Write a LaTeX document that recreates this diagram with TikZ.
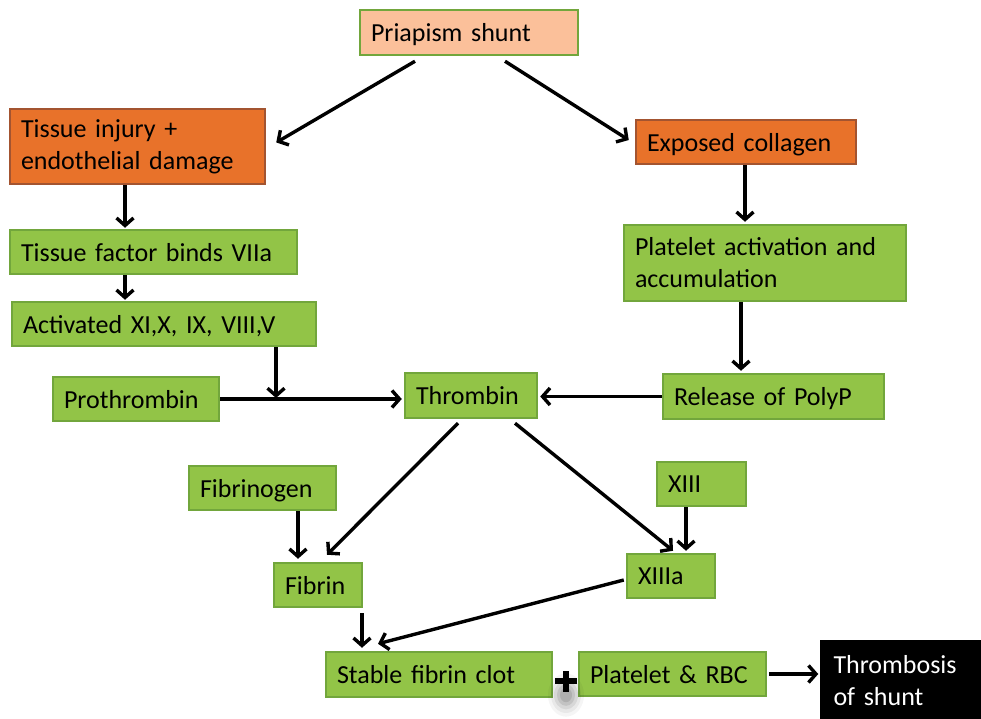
\documentclass[tikz,border=0pt]{standalone}
\usepackage{fontspec}
\setmainfont{Carlito}
\usetikzlibrary{arrows.meta}
\definecolor{gfill}{HTML}{92C447}
\definecolor{gline}{HTML}{72A63C}
\definecolor{ofill}{HTML}{E8722A}
\definecolor{oline}{HTML}{A35430}
\definecolor{pfill}{HTML}{FBC09A}
\tikzset{
  base/.style={line width=2.5pt, inner xsep=11pt, inner ysep=0pt, align=left,
    font=\fontsize{26}{32}\selectfont},
  one/.style={text depth=0pt},
  gbox/.style={base, draw=gline, fill=gfill},
  obox/.style={base, draw=oline, fill=ofill},
  pbox/.style={base, draw=gline, fill=pfill},
  kbox/.style={base, draw=black, fill=black, text=white},
  arr/.style={line width=3.4pt, -{Straight Barb[length=7.5pt,width=17pt]}},
}
\begin{document}
\begin{tikzpicture}[x=1pt,y=-1pt]
\useasboundingbox[fill=white] (0,0) rectangle (981,719);
\node[pbox, one, text width=196pt, minimum height=45pt] (ps) at (469,32.5) {Priapism shunt};
\node[obox, text width=233pt, minimum height=75pt] (ti) at (137.5,146.5) {Tissue injury +\\endothelial damage};
\node[obox, one, text width=198pt, minimum height=44pt] (ec) at (746,142) {Exposed collagen};
\node[gbox, one, text width=265pt, minimum height=44pt] (tf) at (153.5,252) {Tissue factor binds VIIa};
\node[gbox, text width=260pt, minimum height=76pt] (pa) at (765,263) {Platelet activation and\\accumulation};
\node[gbox, one, text width=282pt, minimum height=44pt] (ax) at (164,324) {Activated XI,X, IX, VIII,V};
\node[gbox, one, text width=144pt, minimum height=44pt] (pr) at (136,399) {Prothrombin};
\node[gbox, one, text width=110pt, minimum height=45pt] (th) at (471,395.5) {Thrombin};
\node[gbox, one, text width=199pt, minimum height=45pt] (rp) at (773.5,396.5) {Release of PolyP};
\node[gbox, one, text width=125pt, minimum height=44pt] (fg) at (262.5,488) {Fibrinogen};
\node[gbox, one, text width=67pt, minimum height=44pt] (x13) at (701.5,484) {XIII};
\node[gbox, one, text width=66pt, minimum height=44pt] (fb) at (318,585) {Fibrin};
\node[gbox, one, text width=66pt, minimum height=44pt] (x13a) at (671,576) {XIIIa};
\node[gbox, one, text width=204pt, minimum height=45pt] (sc) at (439,674.5) {Stable fibrin clot};
\node[gbox, one, text width=165pt, minimum height=44pt] (prbc) at (672.5,674) {Platelet \& RBC};
\node[kbox, text width=137pt, minimum height=79pt, inner xsep=12pt] (tos) at (902,680.5) {Thrombosis\\of shunt};
% plus sign with soft shadow
\foreach \r/\o in {18/0.04,15/0.05,12/0.07,9/0.09,6/0.1}{
  \fill[black, opacity=\o] (566,695) ellipse ({\r pt} and {1.2*\r pt});
}
\coordinate (plus) at (566,681);
\draw[line width=6pt] ([xshift=-11pt]plus) -- ([xshift=11pt]plus);
\draw[line width=6pt] ([yshift=-10.5pt]plus) -- ([yshift=10.5pt]plus);
% connectors
\draw[arr] ([xshift=-54pt,yshift=-5pt]ps.south) -- ([xshift=10pt,yshift=4pt]ti.east);
\draw[arr] ([xshift=36pt,yshift=-5pt]ps.south) -- ([xshift=-6pt,yshift=2pt]ec.west);
\draw[arr] ([xshift=-12.5pt]ti.south) -- ([xshift=-28.5pt,yshift=1pt]tf.north);
\draw[arr] ([xshift=-28.5pt]tf.south) -- ([xshift=-39pt,yshift=1pt]ax.north);
\draw[arr] ([xshift=-1pt]ec.south) -- ([xshift=-20pt,yshift=2pt]pa.north);
\draw[arr] ([xshift=-24pt]pa.south) -- ([xshift=-32.5pt,yshift=2pt]rp.north);
\draw[arr] (rp.west) -- ([xshift=2pt]rp.west -| th.east);
\draw[arr] (pr.east) -- ([xshift=-2pt]pr.east -| th.west);
\coordinate (j) at (276,398);
\draw[arr] (ax.south -| j) -- (j);
\draw[arr] ([xshift=-13pt,yshift=-4pt]th.south) -- ([xshift=9pt,yshift=7pt]fb.north);
\draw[arr] ([xshift=44pt,yshift=-4pt]th.south) -- ([xshift=2pt,yshift=2pt]x13a.north);
\draw[arr] ([xshift=35.5pt]fg.south) -- ([xshift=-20pt,yshift=3pt]fb.north);
\draw[arr] ([xshift=-15.5pt]x13.south) -- ([xshift=15pt,yshift=2pt]x13a.north);
\draw[arr] ([xshift=-2pt,yshift=-4pt]x13a.west) -- ([xshift=-61pt,yshift=7pt]sc.north);
\draw[arr] ([xshift=44pt,yshift=-5pt]fb.south) -- ([xshift=-77pt,yshift=3pt]sc.north);
\draw[arr] ([xshift=2pt]prbc.east) -- ([xshift=-2pt]prbc.east -| tos.west);
\end{tikzpicture}
\end{document}
